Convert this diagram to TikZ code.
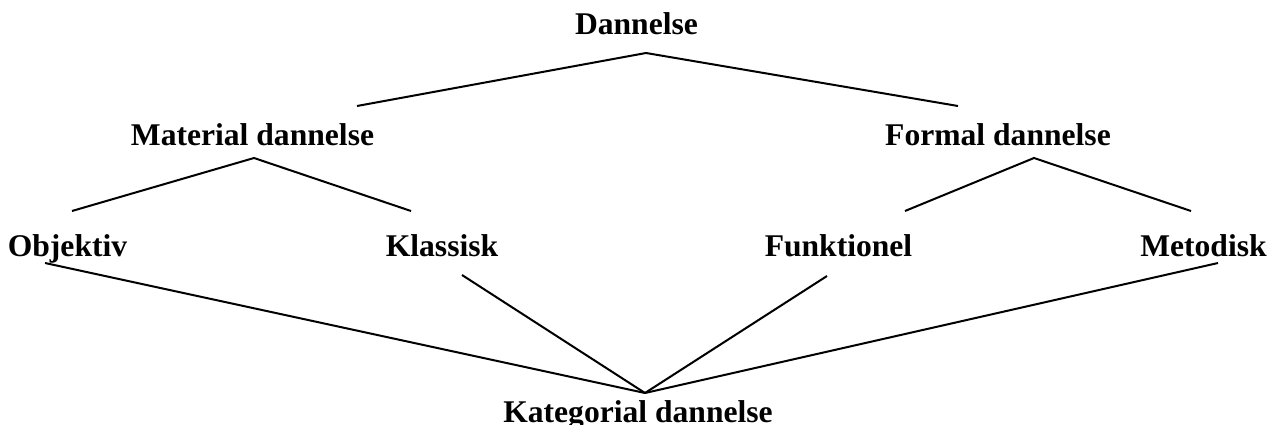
\documentclass[tikz,border=0pt]{standalone}
\usepackage{fontspec}
\setmainfont{Liberation Serif}
\begin{document}
\begin{tikzpicture}[x=1pt,y=-1pt,
  lbl/.style={anchor=base,inner sep=0pt,font=\fontsize{31.6}{31.6}\selectfont\bfseries},
  conn/.style={line width=2pt,line join=miter}]
\useasboundingbox (0,0) rectangle (1269,425);
% labels
\node[lbl] (dan) at (636.5,35) {Dannelse};
\node[lbl] (mat) at (252.5,146) {Material dannelse};
\node[lbl] (for) at (998,146) {Formal dannelse};
\node[lbl] (obj) at (67.5,256) {Objektiv};
\node[lbl] (kla) at (442,256) {Klassisk};
\node[lbl] (fun) at (838.5,256) {Funktionel};
\node[lbl] (met) at (1203.5,256) {Metodisk};
\node[lbl] (kat) at (638,422) {Kategorial dannelse};
% connector points
\coordinate (danApex) at (646,53);
\coordinate (danL) at (357,106);
\coordinate (danR) at (958,106);
\coordinate (matApex) at (254,158);
\coordinate (matL) at (72,211);
\coordinate (matR) at (411,211);
\coordinate (forApex) at (1034,158);
\coordinate (forL) at (905,211);
\coordinate (forR) at (1191,211);
\coordinate (objP) at (45,263);
\coordinate (klaP) at (462,275);
\coordinate (funP) at (827,276);
\coordinate (metP) at (1218,263);
\coordinate (katApex) at (645,393);
% connectors
\draw[conn] (danL) -- (danApex) -- (danR);
\draw[conn] (matL) -- (matApex) -- (matR);
\draw[conn] (forL) -- (forApex) -- (forR);
\draw[conn] (objP) -- (katApex);
\draw[conn] (klaP) -- (katApex);
\draw[conn] (funP) -- (katApex);
\draw[conn] (metP) -- (katApex);
\end{tikzpicture}
\end{document}
